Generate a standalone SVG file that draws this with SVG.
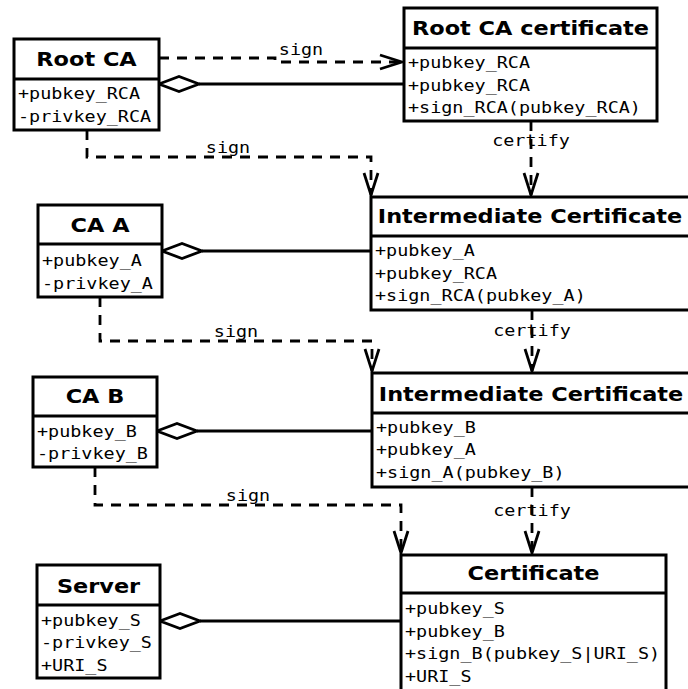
<svg xmlns="http://www.w3.org/2000/svg" width="688" height="689" viewBox="0 0 688 689">
<defs>
<style>
.box{fill:#fff;stroke:#000;stroke-width:3}
.sep{stroke:#000;stroke-width:3}
.t{font-family:"DejaVu Sans","Liberation Sans",sans-serif;font-weight:bold;font-size:19.5px;text-anchor:middle;fill:#000}
.a{font-family:"DejaVu Sans Mono","Liberation Mono",monospace;font-size:16.5px;fill:#000}
.l{font-family:"DejaVu Sans Mono","Liberation Mono",monospace;font-size:16.5px;text-anchor:middle;fill:#000}
.dash{fill:none;stroke:#000;stroke-width:2.8;stroke-dasharray:10 8}
.solid{fill:none;stroke:#000;stroke-width:2.8}
.dia{fill:#fff;stroke:#000;stroke-width:2.8}
</style>
<marker id="arr" viewBox="-25 -9 27 18" refX="0" refY="0" markerWidth="27" markerHeight="18" markerUnits="userSpaceOnUse" orient="auto">
<path d="M-22,-7 L0,0 L-22,7" fill="none" stroke="#000" stroke-width="2.8" stroke-dasharray="none"/>
</marker>
</defs>
<rect width="688" height="689" fill="#fff"/>

<g id="connectors">
<polyline class="dash" points="159,58 275,58 275,62 402,62" marker-end="url(#arr)"/>
<text class="l" transform="translate(301,55) scale(1.117,1)">sign</text>
<polyline class="dash" points="87,130 87,157 371,157 371,195" marker-end="url(#arr)"/>
<text class="l" transform="translate(228,153) scale(1.117,1)">sign</text>
<polyline class="dash" points="100,297 100,341 372,341 372,371" marker-end="url(#arr)"/>
<text class="l" transform="translate(236,337) scale(1.117,1)">sign</text>
<polyline class="dash" points="95,467 95,505 401,505 401,553" marker-end="url(#arr)"/>
<text class="l" transform="translate(248,501) scale(1.117,1)">sign</text>

<line class="dash" x1="531" y1="121" x2="531" y2="195" marker-end="url(#arr)"/>
<text class="l" transform="translate(531,146) scale(1.117,1)">certify</text>
<line class="dash" x1="532" y1="310" x2="532" y2="371" marker-end="url(#arr)"/>
<text class="l" transform="translate(532,336) scale(1.117,1)">certify</text>
<line class="dash" x1="532" y1="487" x2="532" y2="553" marker-end="url(#arr)"/>
<text class="l" transform="translate(532,516) scale(1.117,1)">certify</text>

<line class="solid" x1="199" y1="84" x2="404" y2="84"/>
<polygon class="dia" points="159,84 179,76.5 199,84 179,91.5"/>
<line class="solid" x1="202" y1="251" x2="371" y2="251"/>
<polygon class="dia" points="162,251 182,243.5 202,251 182,258.5"/>
<line class="solid" x1="197" y1="431" x2="372" y2="431"/>
<polygon class="dia" points="157,431 177,423.5 197,431 177,438.5"/>
<line class="solid" x1="200" y1="621" x2="401" y2="621"/>
<polygon class="dia" points="160,621 180,613.5 200,621 180,628.5"/>
</g>

<g id="root-ca">
<rect class="box" x="14" y="39" width="145" height="91"/>
<line class="sep" x1="14" y1="79" x2="159" y2="79"/>
<text class="t" transform="translate(86.5,66) scale(1.15,1)">Root CA</text>
<text class="a" transform="translate(18,99) scale(1.117,1)">+pubkey_RCA</text>
<text class="a" transform="translate(18,121.5) scale(1.117,1)">-privkey_RCA</text>
</g>

<g id="root-ca-certificate">
<rect class="box" x="404" y="8" width="253" height="113"/>
<line class="sep" x1="404" y1="48" x2="657" y2="48"/>
<text class="t" transform="translate(530.5,35) scale(1.15,1)">Root CA certificate</text>
<text class="a" transform="translate(408,68) scale(1.117,1)">+pubkey_RCA</text>
<text class="a" transform="translate(408,90.5) scale(1.117,1)">+pubkey_RCA</text>
<text class="a" transform="translate(408,113) scale(1.117,1)">+sign_RCA(pubkey_RCA)</text>
</g>

<g id="ca-a">
<rect class="box" x="38" y="205" width="124" height="92"/>
<line class="sep" x1="38" y1="244" x2="162" y2="244"/>
<text class="t" transform="translate(100,232) scale(1.15,1)">CA A</text>
<text class="a" transform="translate(42,266) scale(1.117,1)">+pubkey_A</text>
<text class="a" transform="translate(42,288.5) scale(1.117,1)">-privkey_A</text>
</g>

<g id="intermediate-certificate-a">
<rect class="box" x="371" y="197" width="320" height="113"/>
<line class="sep" x1="371" y1="236" x2="691" y2="236"/>
<text class="t" transform="translate(530,223) scale(1.15,1)">Intermediate Certificate</text>
<text class="a" transform="translate(375,256) scale(1.117,1)">+pubkey_A</text>
<text class="a" transform="translate(375,278.5) scale(1.117,1)">+pubkey_RCA</text>
<text class="a" transform="translate(375,301) scale(1.117,1)">+sign_RCA(pubkey_A)</text>
</g>

<g id="ca-b">
<rect class="box" x="33" y="377" width="124" height="90"/>
<line class="sep" x1="33" y1="416" x2="157" y2="416"/>
<text class="t" transform="translate(95,403) scale(1.15,1)">CA B</text>
<text class="a" transform="translate(37,437) scale(1.117,1)">+pubkey_B</text>
<text class="a" transform="translate(37,459) scale(1.117,1)">-privkey_B</text>
</g>

<g id="intermediate-certificate-b">
<rect class="box" x="372" y="373" width="320" height="114"/>
<line class="sep" x1="372" y1="413" x2="692" y2="413"/>
<text class="t" transform="translate(531,401) scale(1.15,1)">Intermediate Certificate</text>
<text class="a" transform="translate(376,433) scale(1.117,1)">+pubkey_B</text>
<text class="a" transform="translate(376,455) scale(1.117,1)">+pubkey_A</text>
<text class="a" transform="translate(376,477.5) scale(1.117,1)">+sign_A(pubkey_B)</text>
</g>

<g id="server">
<rect class="box" x="37" y="565" width="123" height="113"/>
<line class="sep" x1="37" y1="605" x2="160" y2="605"/>
<text class="t" transform="translate(98.5,593) scale(1.15,1)">Server</text>
<text class="a" transform="translate(41,626) scale(1.117,1)">+pubkey_S</text>
<text class="a" transform="translate(41,648) scale(1.117,1)">-privkey_S</text>
<text class="a" transform="translate(41,670.5) scale(1.117,1)">+URI_S</text>
</g>

<g id="certificate">
<rect class="box" x="401" y="555" width="265" height="137"/>
<line class="sep" x1="401" y1="593" x2="666" y2="593"/>
<text class="t" transform="translate(533.5,580) scale(1.15,1)">Certificate</text>
<text class="a" transform="translate(405,614) scale(1.117,1)">+pubkey_S</text>
<text class="a" transform="translate(405,637) scale(1.117,1)">+pubkey_B</text>
<text class="a" transform="translate(405,659) scale(1.117,1)">+sign_B(pubkey_S|URI_S)</text>
<text class="a" transform="translate(405,681.5) scale(1.117,1)">+URI_S</text>
</g>
</svg>
